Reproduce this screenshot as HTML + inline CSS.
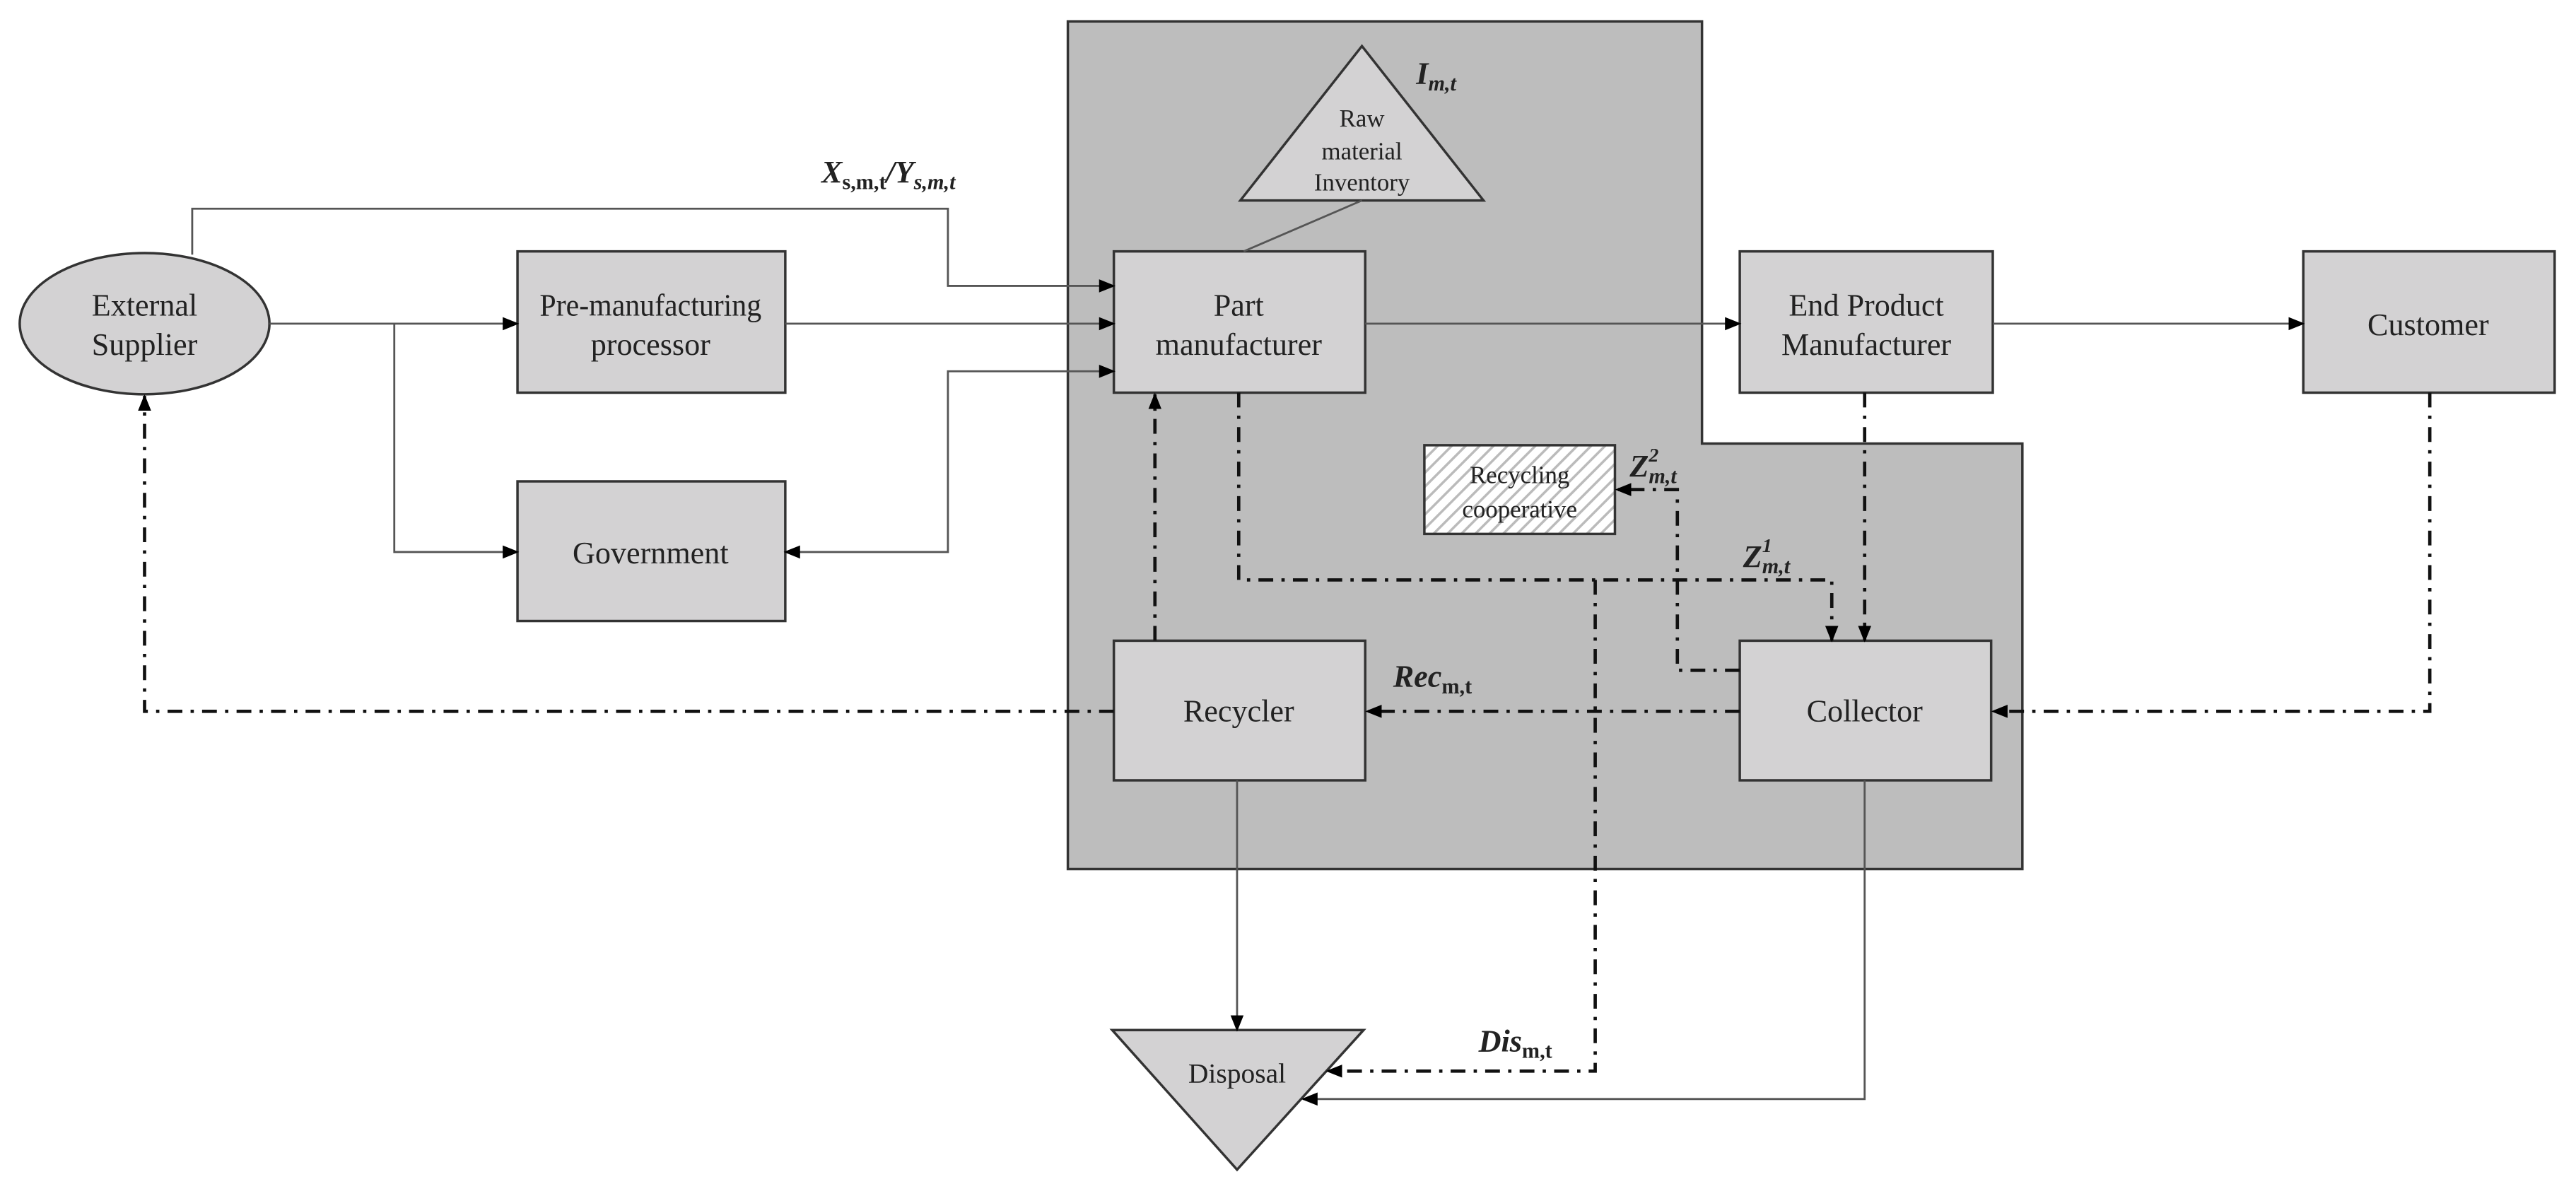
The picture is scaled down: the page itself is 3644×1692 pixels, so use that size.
<!DOCTYPE html>
<html><head><meta charset="utf-8"><style>
html,body{margin:0;padding:0;background:#fff;}
svg{display:block;}
text{font-family:"Liberation Serif",serif;fill:#222;}
.b{font-weight:bold;font-style:italic;}
</style></head><body>
<svg width="3644" height="1692" viewBox="0 0 1568 728" xmlns="http://www.w3.org/2000/svg">
<defs>
<marker id="a" markerWidth="10" markerHeight="10" refX="9" refY="5" orient="auto" markerUnits="userSpaceOnUse">
<path d="M0,1 L10,5 L0,9 z" fill="#000"/></marker>
<marker id="s" markerWidth="10" markerHeight="10" refX="1" refY="5" orient="auto" markerUnits="userSpaceOnUse">
<path d="M10,1 L0,5 L10,9 z" fill="#000"/></marker>
<pattern id="h" width="6" height="6" patternUnits="userSpaceOnUse" patternTransform="rotate(45)">
<rect width="6" height="6" fill="#fff"/><line x1="0" y1="0" x2="0" y2="6" stroke="#bbb" stroke-width="3"/></pattern>
</defs>
<path d="M650,13 H1036 V270 H1231 V529 H650 Z" fill="#bdbdbd" stroke="#333" stroke-width="1.5"/>
<g fill="#d3d2d3" stroke="#333" stroke-width="1.5">
<ellipse cx="88" cy="197" rx="76" ry="43"/>
<rect x="315" y="153" width="163" height="86"/>
<rect x="315" y="293" width="163" height="85"/>
<rect x="678" y="153" width="153" height="86"/>
<rect x="1059" y="153" width="154" height="86"/>
<rect x="1402" y="153" width="153" height="86"/>
<rect x="678" y="390" width="153" height="85"/>
<rect x="1059" y="390" width="153" height="85"/>
<polygon points="829,28 755,122 903,122"/>
<polygon points="677,627 830,627 753,712"/>
</g>
<rect x="867" y="271" width="116" height="54" fill="url(#h)" stroke="#333" stroke-width="1.5"/>
<g fill="none" stroke="#555" stroke-width="1.2">
<line x1="829" y1="122" x2="757" y2="153"/>
<polyline points="117,155 117,127 577,127 577,174 678,174" marker-end="url(#a)"/>
<line x1="164" y1="197" x2="315" y2="197" marker-end="url(#a)"/>
<polyline points="240,197 240,336 315,336" marker-end="url(#a)"/>
<line x1="478" y1="197" x2="678" y2="197" marker-end="url(#a)"/>
<polyline points="678,226 577,226 577,336 478,336" marker-start="url(#s)" marker-end="url(#a)"/>
<line x1="831" y1="197" x2="1059" y2="197" marker-end="url(#a)"/>
<line x1="1213" y1="197" x2="1402" y2="197" marker-end="url(#a)"/>
<line x1="753" y1="475" x2="753" y2="627" marker-end="url(#a)"/>
<polyline points="1135,475 1135,669 793,669" marker-end="url(#a)"/>
</g>
<g fill="none" stroke="#111" stroke-width="2" stroke-dasharray="9,5,2,5">
<line x1="703" y1="390" x2="703" y2="240" marker-end="url(#a)"/>
<polyline points="754,239 754,353 1115,353 1115,390" marker-end="url(#a)"/>
<line x1="1135" y1="239" x2="1135" y2="390" marker-end="url(#a)"/>
<polyline points="1059,408 1021,408 1021,298 984,298" marker-end="url(#a)"/>
<line x1="1059" y1="433" x2="832" y2="433" marker-end="url(#a)"/>
<polyline points="678,433 88,433 88,241" marker-end="url(#a)"/>
<polyline points="1479,239 1479,433 1213,433" marker-end="url(#a)"/>
<polyline points="971,353 971,652 808,652" marker-end="url(#a)"/>
</g>
<g font-size="19" text-anchor="middle">
<text x="88" y="192">External</text><text x="88" y="216">Supplier</text>
<text x="396" y="192" textLength="135" lengthAdjust="spacingAndGlyphs">Pre-manufacturing</text><text x="396" y="216">processor</text>
<text x="396" y="343">Government</text>
<text x="754" y="192">Part</text><text x="754" y="216">manufacturer</text>
<text x="1136" y="192">End Product</text><text x="1136" y="216">Manufacturer</text>
<text x="1478" y="204">Customer</text>
<text x="754" y="439">Recycler</text>
<text x="1135" y="439">Collector</text>
<text x="753" y="659" font-size="17">Disposal</text>
<text x="925" y="294" font-size="15">Recycling</text><text x="925" y="315" font-size="15">cooperative</text>
<text x="829" y="77" font-size="15">Raw</text><text x="829" y="97" font-size="15">material</text><text x="829" y="116" font-size="15">Inventory</text>
</g>
<g font-size="19">
<text x="500" y="111" class="b">X<tspan font-size="13" dy="4" font-style="normal">s,m,t</tspan><tspan dy="-4">/Y</tspan><tspan font-size="13" dy="4">s,m,t</tspan></text>
<text x="862" y="51" class="b">I<tspan font-size="13" dy="4">m,t</tspan></text>
<text x="992" y="290" class="b">Z<tspan font-size="12" dy="-9" dx="0">2</tspan><tspan font-size="13" dy="13" dx="-6">m,t</tspan></text>
<text x="1061" y="345" class="b">Z<tspan font-size="12" dy="-9">1</tspan><tspan font-size="13" dy="13" dx="-6">m,t</tspan></text>
<text x="848" y="418" class="b">Rec<tspan font-size="13" dy="4" font-style="normal">m,t</tspan></text>
<text x="900" y="640" class="b">Dis<tspan font-size="13" dy="4" font-style="normal">m,t</tspan></text>
</g>
</svg>
</body></html>
